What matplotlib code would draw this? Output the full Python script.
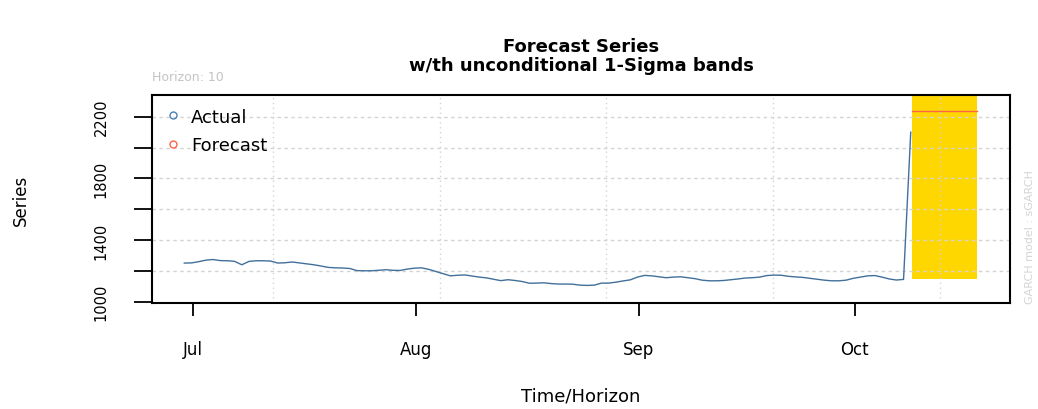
import numpy as np
import pandas as pd
import matplotlib
matplotlib.use("Agg")
import matplotlib.pyplot as plt
import matplotlib.dates as mdates
from matplotlib.lines import Line2D
from matplotlib.ticker import FixedLocator, FuncFormatter
from datetime import datetime

# observed series (daily closes, last ~100 days before the forecast origin)
actual = [1251, 1252, 1260, 1270, 1274, 1267, 1266, 1262, 1240, 1262,
          1266, 1266, 1264, 1251, 1253, 1258, 1252, 1246, 1240, 1232,
          1223, 1220, 1219, 1216, 1202, 1201, 1201, 1204, 1208, 1204,
          1203, 1212, 1218, 1220, 1210, 1196, 1182, 1168, 1172, 1174,
          1167, 1160, 1155, 1146, 1137, 1143, 1138, 1131, 1120, 1121,
          1123, 1118, 1115, 1115, 1114, 1108, 1106, 1108, 1121, 1121,
          1127, 1135, 1142, 1160, 1171, 1168, 1162, 1156, 1160, 1162,
          1156, 1150, 1140, 1136, 1136, 1138, 1143, 1148, 1154, 1156,
          1160, 1170, 1173, 1172, 1165, 1161, 1158, 1152, 1146, 1140,
          1136, 1136, 1140, 1152, 1160, 1168, 1170, 1160, 1148, 1141,
          1145, 2100]
actual_start = "2018-06-29 19:12"

# 10-step ahead forecast and unconditional sigma
horizon = 10
forecast = [2234] * horizon
forecast_start = "2018-10-09"
sigma_uncond = 1085

actual_dates = pd.date_range(actual_start, periods=len(actual), freq="D")
fc_dates = pd.date_range(forecast_start, periods=horizon, freq="D")
fc = np.array(forecast, dtype=float)

fig = plt.figure(figsize=(10.38, 4.10), dpi=100)
ax = fig.add_axes([151.5 / 1038, 1 - 304 / 410, (1010 - 151.5) / 1038, 208 / 410])

ax.fill_between(fc_dates, fc - sigma_uncond, fc + sigma_uncond,
                color="gold", linewidth=0, zorder=1)
ax.plot(actual_dates, actual, color="#41709a", lw=1.0, zorder=4)
ax.plot(fc_dates, fc, color="tomato", lw=1.0, zorder=4)

x0 = mdates.date2num(datetime(2018, 7, 1))
ax.set_xlim(x0 - 5.76, x0 + 113.6)
ax.set_ylim(992, 2341)

# grid in the style of R's grid()
for gx in x0 + 11.1 + 23.2 * np.arange(5):
    ax.axvline(gx, color="lightgray", lw=1.0, ls=(0, (1, 2.5)), zorder=2)
for gy in range(1200, 2600, 200):
    ax.axhline(gy, color="lightgray", lw=1.0, ls=(0, (2.5, 2.5)), zorder=2)

ax.xaxis.set_major_locator(mdates.MonthLocator())
ax.xaxis.set_major_formatter(mdates.DateFormatter("%b"))
ax.yaxis.set_major_locator(FixedLocator(range(1000, 2400, 200)))
ax.yaxis.set_major_formatter(FuncFormatter(lambda v, p: f"{v:.0f}" if v in (1000, 1400, 1800, 2200) else ""))

ax.tick_params(axis="x", length=9, width=1.3, pad=18, labelsize=12)
ax.tick_params(axis="y", length=13, width=1.3, pad=18, labelsize=10.5)
plt.setp(ax.get_yticklabels(), rotation=90, va="center")
for s in ax.spines.values():
    s.set_linewidth(1.5)

ax.set_xlabel("Time/Horizon", fontsize=13)
ax.xaxis.set_label_coords(0.5, (304 - 397) / 208)
ax.xaxis.label.set_va("center")
ax.set_ylabel("Series", fontsize=12)
ax.yaxis.set_label_coords((21 - 151.5) / 858.5, 0.5)
ax.yaxis.label.set_va("center")

fig.text(581 / 1038, 1 - 47 / 410, "Forecast Series", ha="center", va="center",
         fontsize=13, fontweight="bold")
fig.text(581 / 1038, 1 - 66 / 410, "w/th unconditional 1-Sigma bands", ha="center",
         va="center", fontsize=13, fontweight="bold")
fig.text(152 / 1038, 1 - 78 / 410, f"Horizon: {horizon}", ha="left", va="center",
         fontsize=9, color="#c4c4c4")
fig.text(1030 / 1038, 1 - 237 / 410, "GARCH model : sGARCH", ha="center", va="center",
         rotation=90, fontsize=8, color="#d4d4d4")

handles = [Line2D([], [], ls="none", marker="o", ms=5, mfc="none", mec="steelblue"),
           Line2D([], [], ls="none", marker="o", ms=5, mfc="none", mec="tomato")]
ax.legend(handles, ["Actual", "Forecast"], loc="upper left", frameon=False,
          fontsize=13, handlelength=1.0, handletextpad=0.5, labelspacing=0.6,
          borderaxespad=0.3, bbox_to_anchor=(0.0, 1.0))

fig.savefig("out.png", dpi=100)
